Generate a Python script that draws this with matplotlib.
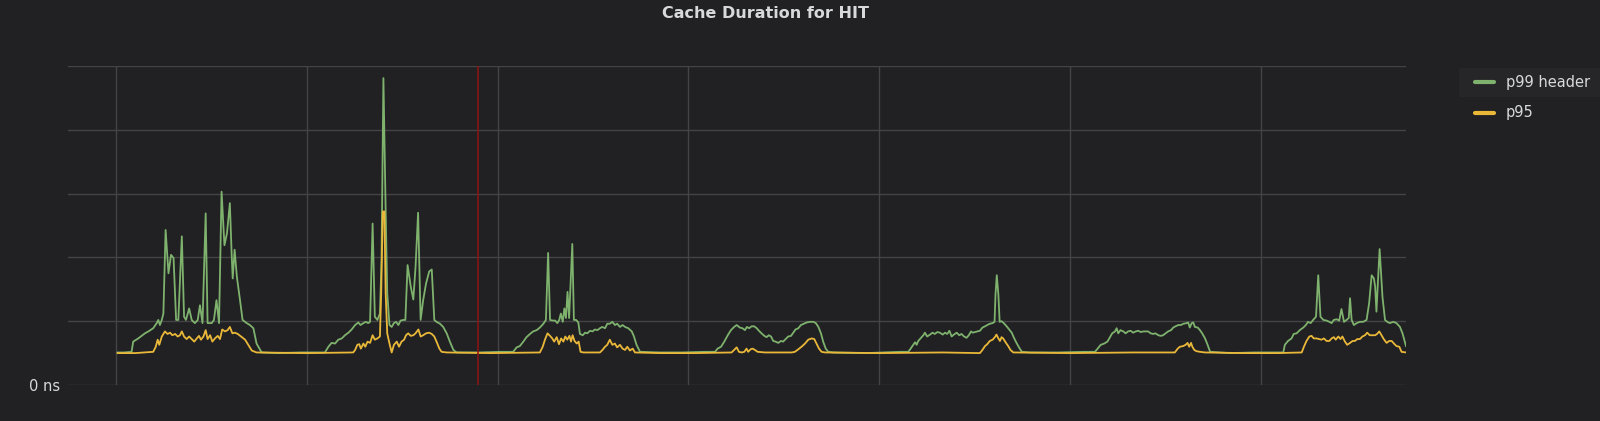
import matplotlib.pyplot as plt
from matplotlib.lines import Line2D
from matplotlib.patches import Rectangle


# time in minutes from the first grid line, duration in grid units (0 = "0 ns")
p99_t = [0.5, 2.5, 4.9, 5.4, 7.0, 9.1, 10.2, 11.7, 12.8, 13.3, 13.8, 14.4, 14.9, 15.6, 16.5, 17.3,
         18.1, 18.9, 19.6, 20.7, 21.4, 22.0, 23.0, 23.8, 24.8, 25.7, 26.4, 27.2, 28.2, 28.8, 30.1,
         30.8, 31.6, 32.4, 33.2, 34.1, 34.9, 35.8, 36.4, 36.7, 37.3, 38.0, 39.0, 39.8, 41.1, 42.1,
         43.2, 44.2, 45.8, 51.0,
         57.9, 65.7, 66.8, 67.8, 68.9, 69.9, 71.0, 72.0, 73.1, 74.1, 75.2, 76.2, 76.9, 77.8, 78.6,
         79.3, 79.9, 80.7, 81.4, 82.2, 83.0, 83.5, 84.1, 84.8, 85.3, 86.0, 86.7, 87.4, 88.1, 88.8,
         89.5, 90.4, 91.0, 91.7, 92.7, 93.5, 94.2, 95.0, 95.8, 96.6, 97.5, 98.5, 99.3, 100.1, 100.8,
         101.9, 102.9, 104.0, 105.0, 106.1, 107.1, 114.0,
         120.8, 124.9, 126.0, 127.0, 128.1, 129.1, 130.2, 131.2, 132.3, 133.3, 134.4, 135.2, 135.9,
         136.5, 137.3, 138.1, 138.8, 139.4, 139.9, 140.5, 141.0, 141.5, 142.0, 142.5, 143.0, 143.5,
         144.0, 144.7, 145.4, 145.9, 146.8, 147.5, 148.2, 149.1, 149.9, 150.6, 151.4, 152.2, 152.9,
         153.8, 154.5, 155.3, 156.1, 156.9, 157.6, 158.5, 159.3, 160.1, 161.1, 162.2, 162.9, 163.7,
         164.8, 171.1, 178.0,
         185.2, 188.4, 189.2, 190.3, 191.3, 192.4, 193.4, 194.4, 195.2, 196.2, 197.0, 197.8, 198.4,
         199.1, 199.9, 200.7, 201.5, 202.2, 203.0, 203.9, 204.6, 205.3, 206.0, 206.7, 207.4, 208.3,
         209.1, 209.8, 210.6, 211.4, 212.3, 213.0, 213.7, 214.6, 215.4, 216.3, 217.2, 218.2, 219.3,
         220.1, 220.9, 221.7, 222.4, 223.2, 224.0, 225.6, 236.0,
         246.5, 249.2, 249.9, 250.7, 251.3, 251.8, 252.3, 253.0, 253.9, 254.4, 255.1, 256.0, 256.8,
         257.5, 258.3, 259.1, 260.0, 260.7, 261.4, 262.1, 262.8, 263.5, 264.4, 265.2, 265.9, 266.7,
         267.5, 268.2, 268.9, 269.4, 270.1, 270.9, 271.7, 272.5, 273.3, 274.0, 274.8, 275.7, 276.3,
         276.6, 277.0, 277.5, 277.9, 278.5, 279.2, 280.1, 280.9, 281.7, 282.4, 283.2, 284.1, 284.9,
         287.4, 296.0,
         304.7, 307.9, 308.7, 309.7, 310.8, 311.8, 312.6, 313.3, 314.2, 314.7, 315.2, 315.9, 316.8,
         317.5, 318.3, 319.1, 319.9, 320.7, 321.5, 322.3, 323.1, 323.8, 324.6, 325.4, 326.2, 326.9,
         327.8, 328.6, 329.3, 330.1, 330.9, 331.8, 332.5, 333.2, 334.1, 334.9, 335.7, 336.7, 337.2,
         337.7, 338.3, 338.8, 339.3, 340.2, 340.9, 341.6, 342.5, 343.3, 344.1, 347.2,
         350.3, 358.0, 367.1, 367.6, 368.6, 369.7, 370.4, 371.3, 372.3, 373.4, 374.2, 374.9, 375.7,
         376.5, 377.4, 378.1, 378.8, 379.7, 380.7, 381.6, 382.3, 383.0, 383.9, 384.7, 385.4, 386.2,
         387.0, 387.7, 388.1, 388.6, 389.3, 390.2, 391.2, 392.2, 393.3, 394.1, 394.9, 395.6, 396.0,
         396.4, 396.9, 397.4, 397.8, 398.3, 399.1, 399.8, 400.6, 401.7, 402.7, 403.8, 404.6, 405.7]
p99_v = [0.51, 0.51, 0.52, 0.68, 0.73, 0.81, 0.84, 0.89, 0.97, 1.02, 0.94, 1.02, 1.12, 2.43, 1.75, 2.04,
         1.99, 1.02, 1.02, 2.33, 1.07, 1.02, 1.20, 1.02, 0.97, 1.02, 1.25, 0.97, 2.69, 0.97, 0.97,
         1.02, 1.33, 0.97, 3.03, 2.19, 2.38, 2.85, 2.01, 1.67, 2.12, 1.70, 1.33, 1.02, 0.97, 0.94,
         0.89, 0.65, 0.51, 0.50,
         0.51, 0.51, 0.60, 0.66, 0.65, 0.71, 0.73, 0.78, 0.82, 0.87, 0.94, 0.98, 0.94, 0.97, 0.99,
         0.97, 0.99, 2.53, 1.07, 1.02, 1.12, 1.96, 4.81, 2.74, 1.44, 0.94, 0.91, 0.97, 0.99, 0.94,
         1.01, 1.02, 1.02, 1.88, 1.54, 1.34, 1.85, 2.70, 1.02, 1.33, 1.59, 1.78, 1.81, 1.02, 0.99,
         0.96, 0.91, 0.81, 0.68, 0.55, 0.51, 0.51,
         0.52, 0.52, 0.59, 0.61, 0.68, 0.75, 0.80, 0.84, 0.86, 0.90, 0.96, 1.02, 2.07,
         1.02, 1.01, 1.01, 0.97, 1.02, 1.12, 0.99, 1.20, 1.05, 1.46, 1.05, 1.65, 2.21,
         1.02, 1.02, 0.98, 0.80, 0.78, 0.82, 0.81, 0.85, 0.84, 0.87, 0.86, 0.89, 0.91,
         0.89, 0.96, 0.96, 0.99, 0.94, 0.96, 0.91, 0.94, 0.91, 0.89, 0.84, 0.76, 0.63,
         0.52, 0.51, 0.51,
         0.52, 0.52, 0.57, 0.60, 0.68, 0.78, 0.86, 0.91, 0.94, 0.90, 0.89, 0.86, 0.91,
         0.89, 0.92, 0.92, 0.89, 0.85, 0.81, 0.77, 0.75, 0.78, 0.76, 0.69, 0.68, 0.66,
         0.69, 0.68, 0.72, 0.76, 0.77, 0.82, 0.87, 0.89, 0.94, 0.96, 0.98, 0.99, 0.99,
         0.97, 0.91, 0.81, 0.68, 0.57, 0.52, 0.51, 0.50,
         0.52, 0.52, 0.57, 0.63, 0.67, 0.63, 0.69, 0.73, 0.78, 0.82, 0.76, 0.79, 0.82,
         0.80, 0.83, 0.82, 0.79, 0.82, 0.80, 0.85, 0.76, 0.79, 0.82, 0.78, 0.80, 0.76,
         0.74, 0.78, 0.84, 0.82, 0.83, 0.84, 0.85, 0.90, 0.92, 0.94, 0.96, 0.97, 0.99,
         1.42, 1.72, 1.42, 0.99, 1.00, 0.97, 0.92, 0.87, 0.82, 0.74, 0.66, 0.58, 0.52,
         0.51, 0.51,
         0.52, 0.52, 0.57, 0.63, 0.65, 0.68, 0.75, 0.81, 0.84, 0.89, 0.81, 0.86, 0.84,
         0.81, 0.84, 0.85, 0.82, 0.84, 0.85, 0.83, 0.84, 0.84, 0.84, 0.81, 0.80, 0.81,
         0.78, 0.77, 0.78, 0.81, 0.84, 0.86, 0.90, 0.92, 0.94, 0.94, 0.96, 0.97, 0.98,
         0.90, 0.97, 0.98, 0.91, 0.90, 0.86, 0.81, 0.73, 0.63, 0.52, 0.51,
         0.50, 0.51, 0.51, 0.63, 0.69, 0.73, 0.80, 0.81, 0.86, 0.90, 0.94, 0.99, 0.97,
         1.02, 1.07, 1.72, 1.07, 1.02, 1.01, 0.99, 0.97, 1.02, 1.03, 1.01, 1.19, 0.99,
         1.02, 1.05, 1.36, 1.02, 0.94, 0.97, 0.99, 0.99, 1.02, 1.28, 1.72, 1.67, 1.54,
         1.15, 1.65, 2.13, 1.80, 1.38, 1.02, 0.99, 0.97, 0.99, 0.97, 0.91, 0.81, 0.61]

p95_t = [0.5, 6.0, 11.7, 12.5, 13.1, 13.6, 14.4, 15.4, 16.2, 17.0, 17.7, 18.6, 19.4, 20.1, 20.7, 21.4,
         22.2, 23.0, 23.8, 24.6, 25.4, 26.1, 26.7, 27.5, 28.2, 28.8, 29.6, 30.3, 31.1, 32.0, 32.7,
         33.4, 34.3, 35.1, 35.8, 36.6, 37.4, 38.3, 39.3, 40.6, 41.6, 42.7, 44.2, 60.0,
         74.6, 75.2, 75.9, 76.5, 77.0, 77.8, 78.4, 79.1, 79.9, 80.7, 81.4, 82.2, 83.0, 83.4, 83.9,
         84.4, 84.8, 85.3, 86.0, 86.7, 87.4, 88.3, 89.0, 89.8, 90.6, 91.2, 91.9, 92.7, 93.5, 94.2,
         95.1, 95.8, 96.6, 97.5, 98.5, 99.3, 100.1, 100.8, 101.7, 102.4, 104.0, 118.0,
         133.3, 134.2, 134.9, 135.7, 136.5, 137.2, 137.8, 138.6, 139.3, 140.0, 140.7, 141.3, 141.9,
         142.6, 143.1, 143.6, 144.2, 144.9, 145.5, 146.1, 147.0, 152.2, 153.0, 153.8, 154.5, 155.3,
         156.1, 156.9, 157.6, 158.5, 159.3, 160.1, 160.8, 161.6, 162.5, 163.2, 171.1, 182.0,
         193.6, 194.4, 195.2, 195.9, 196.8, 197.6, 198.3, 198.8, 199.6, 200.2, 200.9, 201.8, 204.1,
         212.5, 213.5, 214.6, 215.6, 216.7, 217.7, 218.8, 219.6, 220.3, 221.1, 221.9, 223.0,
         240.0, 260.0,
         271.7, 272.5, 273.3, 274.0, 274.8, 275.7, 276.4, 276.9, 277.5, 278.0, 278.5, 279.0, 279.9,
         280.6, 281.3, 282.2, 300.0, 320.0,
         333.0, 333.9, 334.6, 335.6, 336.4, 337.0, 337.5, 338.1, 338.5, 339.1, 339.8, 340.9, 342.5,
         355.0, 365.0,
         372.9, 373.6, 374.4, 375.3, 376.0, 376.7, 377.6, 378.4, 379.1, 379.9, 380.7, 381.6, 382.3,
         383.0, 383.6, 384.4, 385.1, 385.7, 386.5, 387.2, 388.1, 388.9, 389.6, 390.4, 391.2, 392.0,
         392.8, 393.5, 394.3, 395.2, 396.0, 396.6, 397.3, 398.0, 398.7, 399.6, 400.4, 401.2, 401.9,
         402.7, 403.6, 404.3, 405.7]
p95_v = [0.50, 0.50, 0.52, 0.60, 0.71, 0.63, 0.76, 0.84, 0.80, 0.82, 0.78, 0.80, 0.76, 0.78, 0.84, 0.76,
         0.72, 0.76, 0.72, 0.68, 0.73, 0.77, 0.71, 0.76, 0.86, 0.72, 0.78, 0.68, 0.73, 0.77, 0.72,
         0.87, 0.84, 0.86, 0.91, 0.81, 0.82, 0.80, 0.76, 0.71, 0.63, 0.54, 0.51, 0.50,
         0.51, 0.55, 0.63, 0.64, 0.57, 0.65, 0.60, 0.68, 0.66, 0.78, 0.71, 0.73, 0.76, 1.44, 2.72,
         2.72, 1.44, 0.81, 0.65, 0.51, 0.63, 0.68, 0.60, 0.68, 0.71, 0.78, 0.81, 0.77, 0.78, 0.81,
         0.87, 0.76, 0.78, 0.81, 0.82, 0.80, 0.76, 0.68, 0.57, 0.52, 0.51, 0.50,
         0.51, 0.60, 0.71, 0.81, 0.77, 0.73, 0.68, 0.75, 0.64, 0.73, 0.68, 0.76, 0.71,
         0.77, 0.68, 0.78, 0.69, 0.65, 0.68, 0.52, 0.51, 0.51, 0.55, 0.60, 0.63, 0.71,
         0.63, 0.65, 0.59, 0.63, 0.57, 0.55, 0.60, 0.54, 0.57, 0.51, 0.50, 0.50,
         0.51, 0.55, 0.59, 0.52, 0.51, 0.52, 0.57, 0.52, 0.56, 0.57, 0.55, 0.52, 0.51,
         0.51, 0.52, 0.56, 0.60, 0.65, 0.71, 0.73, 0.72, 0.65, 0.57, 0.52, 0.51,
         0.50, 0.51,
         0.50, 0.55, 0.61, 0.64, 0.69, 0.71, 0.75, 0.79, 0.73, 0.69, 0.75, 0.73, 0.66,
         0.61, 0.55, 0.51, 0.50, 0.51,
         0.51, 0.57, 0.60, 0.61, 0.63, 0.66, 0.60, 0.66, 0.60, 0.55, 0.53, 0.52, 0.51,
         0.50, 0.50,
         0.51, 0.60, 0.69, 0.76, 0.77, 0.73, 0.73, 0.72, 0.71, 0.73, 0.69, 0.69, 0.73,
         0.75, 0.71, 0.76, 0.72, 0.76, 0.68, 0.63, 0.66, 0.69, 0.69, 0.72, 0.72, 0.76,
         0.78, 0.82, 0.78, 0.78, 0.78, 0.80, 0.84, 0.78, 0.72, 0.66, 0.69, 0.69, 0.65,
         0.61, 0.60, 0.52, 0.51]

series_names = ["p99 header", "p95"]
marker_time = 113.8
x_grid = [0, 60, 120, 180, 240, 300, 360]
y_grid = [0, 1, 2, 3, 4, 5]
y_labels = ["0 ns", "", "", "", "", ""]
title = "Cache Duration for HIT"

BG = "#212124"
GRID = "#444447"
TEXT = "#d8d9da"
GREEN = "#7eb26d"
YELLOW = "#eab839"
RED = "#8e1212"
W, H = 1600, 421

fig = plt.figure(figsize=(W / 100, H / 100), dpi=100, facecolor=BG)
ax = fig.add_axes([68 / W, 1 - 385 / H, (1406 - 68) / W, (385 - 66) / H])
ax.set_facecolor(BG)

ax.plot(p99_t, p99_v, color=GREEN, lw=1.3, zorder=3)
ax.plot(p95_t, p95_v, color=YELLOW, lw=1.3, zorder=4)
ax.axvline(marker_time, color=RED, lw=1.1, zorder=5)

ax.set_xlim(-15.1, 405.7)
ax.set_ylim(0, 5)
ax.set_xticks(x_grid)
ax.set_xticklabels([])
ax.set_yticks(y_grid)
ax.set_yticklabels(y_labels, color=TEXT, fontsize=10.5)
ax.tick_params(length=0, pad=6)
ax.grid(True, color=GRID, lw=1)
ax.set_axisbelow(True)
for s in ax.spines.values():
    s.set_visible(False)

fig.text(765 / W, 1 - 14 / H, title, ha="center", va="center",
         fontsize=11.5, fontweight="bold", color=TEXT)

# legend on the right, first row highlighted like a hover
fig.patches.append(Rectangle((1459 / W, 1 - 96 / H), (W - 1459) / W, 28 / H,
                             transform=fig.transFigure, color="#262629", zorder=0))
for name, color, y in zip(series_names, [GREEN, YELLOW], [82, 113]):
    fig.lines.append(Line2D([1475 / W, 1494 / W], [1 - y / H, 1 - y / H],
                            transform=fig.transFigure, color=color, lw=3,
                            solid_capstyle="round"))
    fig.text(1506 / W, 1 - y / H, name, ha="left", va="center",
             fontsize=10.5, color=TEXT)

fig.savefig("out.png", dpi=100, facecolor=BG)
